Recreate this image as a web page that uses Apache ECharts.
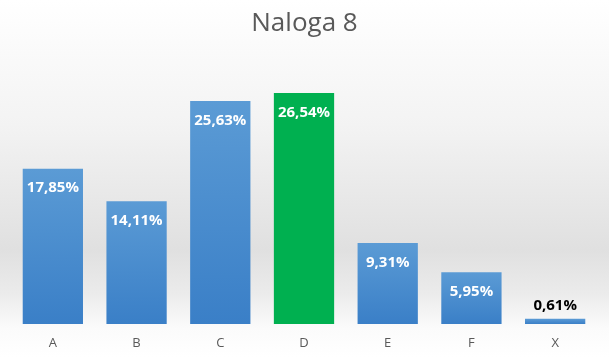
<!DOCTYPE html>
<html><head><meta charset="utf-8">
<script src="https://cdn.jsdelivr.net/npm/echarts@6/dist/echarts.min.js"></script>
<style>html,body{margin:0;padding:0}#c{width:609px;height:357px}</style>
</head><body><div id="c"></div>
<script>
const categories = ['A','B','C','D','E','F','X'];
const values = [17.85, 14.11, 25.63, 26.54, 9.31, 5.95, 0.61];
const highlightCategory = 'D';
const titleText = 'Naloga 8';

const chart = echarts.init(document.getElementById('c'));
const blue = new echarts.graphic.LinearGradient(0,0,0,1,[{offset:0,color:'#5b9bd5'},{offset:1,color:'#3a7fc7'}]);
const data = values.map((v,i)=>{
  const isHi = categories[i]===highlightCategory;
  const small = v < 3;
  return {
    value: v,
    itemStyle: {color: isHi ? '#00b050' : blue},
    label: small ? {position:'top', color:'#000', distance:5} : {position:'insideTop', color:'#fff', distance:12}
  };
});
chart.setOption({
  backgroundColor: new echarts.graphic.LinearGradient(0,0,0,1,[
    {offset:0,color:'#ffffff'},{offset:0.35,color:'#f3f3f3'},{offset:0.7,color:'#e0e0e0'},
    {offset:0.82,color:'#ebebeb'},{offset:0.92,color:'#fbfbfb'},{offset:1,color:'#ffffff'}]),
  title: {text: titleText, left:'center', top:6,
    textStyle:{fontFamily:'Open Sans', fontWeight:'normal', fontSize:26, color:'#595959'}},
  grid: {left:11, right:12, top:63, bottom:33},
  xAxis: {type:'category', data:categories,
    axisLine:{show:false}, axisTick:{show:false},
    axisLabel:{color:'#595959', fontFamily:'Open Sans', fontSize:13, margin:13}},
  yAxis: {type:'value', min:0, max:30, show:false, splitLine:{show:false}},
  series: [{type:'bar', data:data, barCategoryGap:'28%',
    label:{show:true, fontFamily:'Open Sans', fontWeight:'bold', fontSize:15,
      formatter: p => p.value.toFixed(2).replace('.',',')+'%'}}]
});
</script></body></html>
